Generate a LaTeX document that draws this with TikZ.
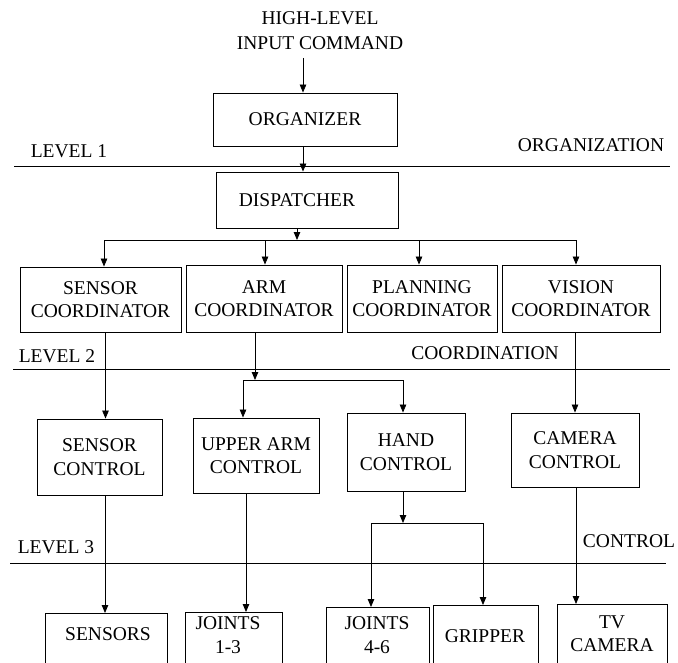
\documentclass[tikz,border=0pt]{standalone}
\usepackage{fontspec}
\setmainfont{Liberation Serif}
\usetikzlibrary{arrows.meta,calc}
\begin{document}
\begin{tikzpicture}[x=1pt,y=-1pt,
  every node/.style={font=\fontsize{19.5}{23.5}\selectfont, align=center},
  box/.style={draw, line width=0.9pt, inner sep=2pt},
  lowbox/.style={draw, line width=0.9pt, anchor=north, minimum height=90pt, inner sep=0pt},
  arr/.style={line width=0.8pt, -{Triangle[length=8pt,width=6.5pt]}},
  ln/.style={line width=0.8pt},
  lvl/.style={line width=1pt},
  lbl/.style={inner sep=0pt}]
\useasboundingbox (0,0) rectangle (678,662);
\clip (0,0) rectangle (678,662);

% top
\node (input) at (320,30.5) {HIGH-LEVEL\\[1pt]INPUT COMMAND};
\node[box, minimum width=184pt, minimum height=53pt] (org) at (305,119.5) {ORGANIZER};
\node[box, minimum width=182pt, minimum height=56pt] (disp) at (307,200) {DISPATCHER\hspace*{20pt}};

% level 1
\coordinate (l1a) at (14,166); \coordinate (l1b) at (670,166);
\draw[lvl] (l1a) -- (l1b);
\node[lbl] (lev1) at (69,151) {LEVEL 1};
\node[lbl] (orgn) at (591,145) {ORGANIZATION};

% coordinators
\node[box, minimum width=161pt, minimum height=65pt] (sc) at (100.5,299.5) {SENSOR\\COORDINATOR};
\node[box, minimum width=156pt, minimum height=67pt] (ac) at (264,298.5) {ARM\\COORDINATOR};
\node[box, minimum width=150pt, minimum height=67pt] (pc) at (422,298.5) {PLANNING\\COORDINATOR};
\node[box, minimum width=158pt, minimum height=67pt] (vc) at (581,298.5) {VISION\\COORDINATOR};

% level 2
\coordinate (l2a) at (13,369); \coordinate (l2b) at (670,369);
\draw[lvl] (l2a) -- (l2b);
\node[lbl] (lev2) at (57,356) {LEVEL 2};
\node[lbl] (coordn) at (485,353) {COORDINATION};

% controls
\node[box, minimum width=125pt, minimum height=76pt] (sctl) at (99.5,457) {SENSOR\\CONTROL};
\node[box, minimum width=126pt, minimum height=75pt] (uac) at (256,455.5) {UPPER ARM\\CONTROL};
\node[box, minimum width=118pt, minimum height=78pt] (hc) at (406,452) {HAND\\CONTROL};
\node[box, minimum width=128pt, minimum height=74pt] (cc) at (575,450) {CAMERA\\CONTROL};

% level 3
\coordinate (l3a) at (10,563); \coordinate (l3b) at (666,563);
\draw[lvl] (l3a) -- (l3b);
\node[lbl] (lev3) at (56,547) {LEVEL 3};
\node[lbl] (ctrln) at (629,541) {CONTROL};

% bottom boxes (cut off by the lower edge)
\node[lowbox, minimum width=122pt] (sens) at (106,613) {};
\node[lowbox, minimum width=97pt] (j13) at (233.5,612) {};
\node[lowbox, minimum width=103pt] (j46) at (377.5,607) {};
\node[lowbox, minimum width=105pt] (grip) at (485.5,605) {};
\node[lowbox, minimum width=110pt] (tv) at (612,604) {};
\node (senst) at (108,634) {SENSORS};
\node (j13t) at (228,635) {JOINTS\\1-3};
\node (j46t) at (377,635) {JOINTS\\4-6};
\node (gript) at (485,636) {GRIPPER};
\node (tvt) at (612,633.5) {TV\\CAMERA};

% connectors top
\draw[arr, shorten <=5pt] ([xshift=-2pt]org.north |- input.south) -- ([xshift=-2pt]org.north);
\draw[arr] ([xshift=-2pt]org.south) -- ([xshift=-2pt]org.south |- disp.north);

\coordinate (dbus) at (297,240);
\coordinate (b1) at (104,240);
\coordinate (b2) at (265,240);
\coordinate (b3) at (419,240);
\coordinate (b4) at (576,240);
\draw[arr] (disp.south -| dbus) -- (dbus);
\draw[ln] (b1) -- (b4);
\draw[arr] (b1) -- (b1 |- sc.north);
\draw[arr] (b2) -- (b2 |- ac.north);
\draw[arr] (b3) -- (b3 |- pc.north);
\draw[arr] (b4) -- (b4 |- vc.north);

% coordination -> control
\draw[arr] ([xshift=5pt]sc.south) -- ([xshift=5pt]sc.south |- sctl.north);
\coordinate (abus) at (255,380);
\coordinate (a1) at (243,380);
\coordinate (a2) at (403,380);
\draw[arr] (ac.south -| abus) -- (abus);
\draw[ln] (a1) -- (a2);
\draw[arr] (a1) -- (a1 |- uac.north);
\draw[arr] (a2) -- (a2 |- hc.north);
\draw[arr] (vc.south -| cc.north) -- (cc.north);

% control -> devices
\draw[arr] ([xshift=5.5pt]sctl.south) -- ([xshift=5.5pt]sctl.south |- sens.north);
\draw[arr] ([xshift=-10pt]uac.south) -- ([xshift=-10pt]uac.south |- j13.north);
\coordinate (hbus) at (403,523);
\coordinate (h1) at (371,523);
\coordinate (h2) at (483,523);
\draw[arr] (hc.south -| hbus) -- (hbus);
\draw[ln] (h1) -- (h2);
\draw[arr] (h1) -- (h1 |- j46.north);
\draw[arr] (h2) -- (h2 |- grip.north);
\draw[arr] ([xshift=1pt]cc.south) -- ([xshift=1pt]cc.south |- tv.north);
\end{tikzpicture}
\end{document}
